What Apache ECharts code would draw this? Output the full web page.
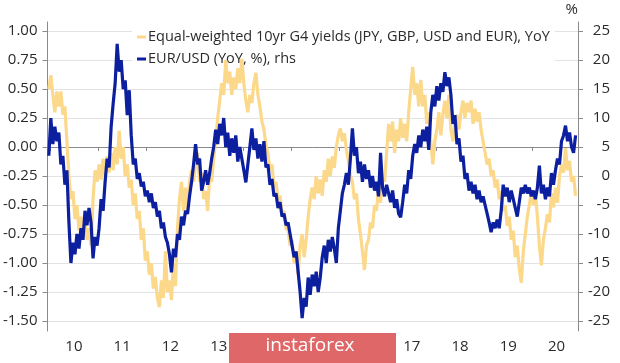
<!DOCTYPE html>
<html><head><meta charset="utf-8">
<script src="https://cdn.jsdelivr.net/npm/echarts@6/dist/echarts.min.js"></script>
<style>html,body{margin:0;padding:0;background:#fff}#c{width:620px;height:363px}</style>
</head><body><div id="c"></div>
<script>
// ---- tick labels ----
const yearTicks = [2010,2011,2012,2013,2014,2015,2016,2017,2018,2019,2020];
const yearLabels = ['10','11','12','13','14','15','16','17','18','19','20'];
const leftTicks = [-1.5,-1.25,-1.0,-0.75,-0.5,-0.25,0,0.25,0.5,0.75,1.0];
const rightTicks = [-25,-20,-15,-10,-5,0,5,10,15,20,25];
const nameG4 = 'Equal-weighted 10yr G4 yields (JPY, GBP, USD and EUR), YoY';
const nameFX = 'EUR/USD (YoY, %), rhs';

// ---- Equal-weighted G4 10yr yields, YoY (lhs), semi-monthly readings ----
const g4_2009 = [0.50];
const g4_2010 = [0.62,0.45,0.30,0.48,0.35,0.48,0.28,0.35,0.05,-0.25,-0.45,-0.38,-0.62,-0.50,-0.72,-0.60,-0.78,-0.65,-0.80,-0.70,-0.85,-0.45,-0.20,-0.30];
const g4_2011 = [-0.15,-0.28,-0.10,-0.25,-0.08,-0.22,-0.05,-0.20,0.00,-0.15,0.14,-0.10,0.00,-0.25,-0.15,-0.35,-0.28,-0.50,-0.40,-0.62,-0.55,-0.80,-0.70,-0.98];
const g4_2012 = [-0.90,-1.10,-1.00,-1.22,-1.12,-1.30,-1.38,-1.15,-1.30,-0.90,-1.25,-1.15,-1.32,-1.00,-1.20,-0.70,-0.45,-0.30,-0.55,-0.35,-0.55,-0.30,-0.20,-0.30];
const g4_2013 = [-0.15,-0.05,-0.30,-0.22,-0.45,-0.38,-0.55,-0.25,-0.30,-0.10,0.05,0.25,0.40,0.55,0.45,0.75,0.55,0.65,0.45,0.60,0.50,0.68,0.55,0.76];
const g4_2014 = [0.55,0.40,0.30,0.45,0.38,0.55,0.64,0.45,0.35,0.22,0.15,0.02,-0.05,-0.20,-0.15,-0.35,-0.30,-0.45,-0.42,-0.58,-0.55,-0.70,-0.72,-0.85];
const g4_2015 = [-0.80,-1.00,-0.90,-1.10,-0.85,-0.75,-0.95,-0.80,-0.60,-0.45,-0.35,-0.45,-0.25,-0.40,-0.28,-0.42,-0.20,-0.30,-0.10,-0.25,-0.08,-0.18,0.00,0.10];
const g4_2016 = [0.16,0.05,0.12,-0.02,-0.12,-0.25,-0.30,-0.45,-0.40,-0.62,-0.75,-0.90,-1.06,-0.85,-0.80,-0.65,-0.70,-0.50,-0.55,-0.35,-0.48,-0.25,-0.30,-0.05];
const g4_2017 = [0.20,0.05,0.22,-0.05,0.15,0.05,0.25,0.08,0.20,0.05,0.30,0.50,0.69,0.45,0.55,0.35,0.58,0.35,0.45,0.20,0.30,0.05,-0.15,0.05];
const g4_2018 = [0.15,0.30,0.10,0.28,0.40,0.25,0.45,0.15,0.05,0.20,0.28,0.15,0.30,0.40,0.25,0.38,0.30,0.40,0.20,0.33,0.22,0.30,0.15,0.05];
const g4_2019 = [-0.05,-0.15,-0.10,-0.25,-0.20,-0.35,-0.28,-0.45,-0.38,-0.55,-0.50,-0.68,-0.60,-0.80,-0.72,-0.95,-0.85,-1.05,-1.17,-0.90,-0.75,-0.60,-0.50,-0.38];
const g4_2020 = [-0.50,-0.40,-0.60,-0.85,-1.02,-0.80,-0.70,-0.58,-0.65,-0.40,-0.52,-0.35,-0.48,-0.25,-0.15,-0.22,-0.01,-0.20,-0.12,-0.30,-0.25,-0.42];

// ---- EUR/USD, YoY % (rhs), semi-monthly readings ----
const fx_2009 = [3.5];
const fx_2010 = [10.0,5.5,8.5,6.0,7.5,2.0,3.5,-1.5,1.0,-8.0,-15.0,-11.5,-13.5,-10.0,-12.5,-9.0,-11.0,-6.0,-8.5,-5.5,-8.0,-14.2,-10.5,-12.0];
const fx_2011 = [-9.0,-4.0,-6.0,-1.0,3.0,1.5,8.5,12.5,16.0,22.8,18.0,20.0,15.0,16.5,10.5,14.8,7.0,2.0,3.0,-0.5,0.5,-1.8,-1.0,-3.5];
const fx_2012 = [-2.5,-4.5,-3.0,-5.5,-4.5,-7.0,-6.0,-9.0,-8.0,-10.5,-11.5,-13.5,-16.6,-12.5,-14.0,-10.0,-11.0,-7.0,-8.5,-6.0,-6.5,-3.5,-1.0,2.0];
const fx_2013 = [5.5,2.0,3.0,-2.5,-1.0,1.0,-1.5,0.5,3.0,5.0,8.0,5.5,9.0,7.0,10.0,5.0,7.5,3.5,6.5,4.0,7.0,2.5,5.0,3.0];
const fx_2014 = [1.0,-1.1,2.0,5.0,8.2,4.5,6.5,3.0,5.5,2.5,6.0,1.5,2.0,-1.5,-0.5,-3.5,-3.0,-5.5,-4.5,-7.0,-6.5,-8.5,-8.0,-10.0];
const fx_2015 = [-12.0,-14.0,-13.0,-16.5,-20.0,-24.5,-21.0,-22.5,-17.5,-20.5,-17.0,-19.0,-16.5,-20.0,-17.5,-14.0,-12.0,-15.0,-11.0,-13.0,-10.5,-12.5,-15.0,-9.0];
const fx_2016 = [-6.0,-3.0,-1.5,0.5,-1.5,3.0,8.2,3.5,5.0,0.5,2.5,-1.0,2.0,-0.5,1.0,-2.0,0.0,-2.5,-1.0,-3.5,4.0,-2.0,-3.5,-1.5];
const fx_2017 = [-3.0,-4.5,-2.5,-5.5,-4.0,-6.5,-7.1,-4.5,-1.5,-3.0,1.0,-0.5,3.5,5.5,4.0,7.0,5.0,8.0,6.0,8.5,4.5,11.0,14.0,12.0];
const fx_2018 = [15.5,13.0,16.0,14.5,17.9,15.5,17.0,14.0,9.0,10.5,5.5,6.5,2.5,3.5,-0.5,0.5,-2.5,-1.0,-3.0,-1.5,-4.0,-2.5,-4.5,-3.5];
const fx_2019 = [-5.0,-6.5,-8.0,-9.7,-8.0,-9.0,-7.5,-9.0,-6.0,-1.5,-3.5,-2.0,-4.5,-2.5,-4.0,-5.5,-7.0,-4.5,-2.0,-3.0,-1.5,-3.0,-2.0,-3.5];
const fx_2020 = [-2.5,-4.0,-2.0,1.8,-3.0,-1.5,-4.0,-2.0,-3.5,0.5,-1.5,1.0,3.0,2.0,6.0,7.0,8.7,6.0,7.5,5.0,4.0,7.0];

// year, readings, first half-month slot (0..23)
function build(blocks) {
  const out = [];
  blocks.forEach(([yr, arr, start]) => {
    arr.forEach((v, i) => out.push([yr + (start + i + 0.5) / 24, v]));
  });
  return out;
}
const g4Data = build([[2009,g4_2009,23],[2010,g4_2010,0],[2011,g4_2011,0],[2012,g4_2012,0],[2013,g4_2013,0],[2014,g4_2014,0],[2015,g4_2015,0],[2016,g4_2016,0],[2017,g4_2017,0],[2018,g4_2018,0],[2019,g4_2019,0],[2020,g4_2020,0]]);
const fxData = build([[2009,fx_2009,23],[2010,fx_2010,0],[2011,fx_2011,0],[2012,fx_2012,0],[2013,fx_2013,0],[2014,fx_2014,0],[2015,fx_2015,0],[2016,fx_2016,0],[2017,fx_2017,0],[2018,fx_2018,0],[2019,fx_2019,0],[2020,fx_2020,0]]);

const FONT = '"Open Sans", sans-serif';
const TXT = '#2b2b2b';
const AX = '#8a8a8a';

const chart = echarts.init(document.getElementById('c'), null, {renderer: 'canvas'});
chart.setOption({
  animation: false,
  backgroundColor: '#ffffff',
  textStyle: {fontFamily: FONT},
  grid: {left: 47, right: 42, top: 22, bottom: 32, containLabel: false},
  legend: {
    orient: 'vertical', left: 132, top: 26, padding: [3, 5], itemGap: 6,
    backgroundColor: '#ffffff', z: 1,
    icon: 'rect', itemWidth: 9, itemHeight: 3,
    textStyle: {fontSize: 14.5, color: TXT, fontFamily: FONT, lineHeight: 16, padding: [0,0,0,-3]},
    data: [nameG4, nameFX]
  },
  xAxis: {
    type: 'value', min: 2009.952, max: 2020.946,
    axisLine: {show: true, lineStyle: {color: AX, width: 1}},
    axisTick: {show: true, customValues: yearTicks, length: 4, lineStyle: {color: AX}},
    axisLabel: {customValues: yearTicks.map(y => y + 0.5), formatter: v => yearLabels[Math.floor(v) - 2010],
      fontSize: 15, color: TXT, fontFamily: FONT, margin: 8},
    splitLine: {show: false}
  },
  yAxis: [{
    type: 'value', position: 'left', min: -1.586, max: 1.078,
    axisLine: {show: true, lineStyle: {color: AX, width: 1}},
    axisTick: {show: true, customValues: leftTicks, length: 5, lineStyle: {color: AX}},
    axisLabel: {customValues: leftTicks, formatter: v => v.toFixed(2), fontSize: 15, color: TXT, fontFamily: FONT, margin: 10},
    splitLine: {show: true, lineStyle: {color: '#e2e2e2', width: 1}}
  }, {
    type: 'value', position: 'right', min: -26.72, max: 26.56,
    name: '%', nameLocation: 'end', nameGap: 5,
    nameTextStyle: {fontSize: 15, color: TXT, fontFamily: FONT, align: 'right'},
    axisLine: {show: true, lineStyle: {color: AX, width: 1}},
    axisTick: {show: true, customValues: rightTicks, length: 5, lineStyle: {color: AX}},
    axisLabel: {customValues: rightTicks, formatter: v => String(v), fontSize: 15, color: TXT, fontFamily: FONT, margin: 32, align: 'right'},
    splitLine: {show: false}
  }],
  series: [{
    name: nameG4, type: 'line', yAxisIndex: 0, data: g4Data, showSymbol: false, symbol: 'none',
    lineStyle: {color: '#fbd88a', width: 3.2}, itemStyle: {color: '#fbd88a'}, z: 2
  }, {
    name: nameFX, type: 'line', yAxisIndex: 1, data: fxData, showSymbol: false, symbol: 'none',
    lineStyle: {color: '#0c1f9e', width: 3.2}, itemStyle: {color: '#0c1f9e'}, z: 3
  }],
  graphic: [{
    type: 'rect', left: 229, top: 333, zlevel: 1, z: 100,
    shape: {width: 167, height: 30}, style: {fill: '#e06767'}
  }, {
    type: 'text', left: 'center', top: 336, zlevel: 1, z: 101,
    style: {text: 'instaforex', fill: '#ffffff', font: '19px "Open Sans", sans-serif'}
  }]
});
</script>
</body></html>
